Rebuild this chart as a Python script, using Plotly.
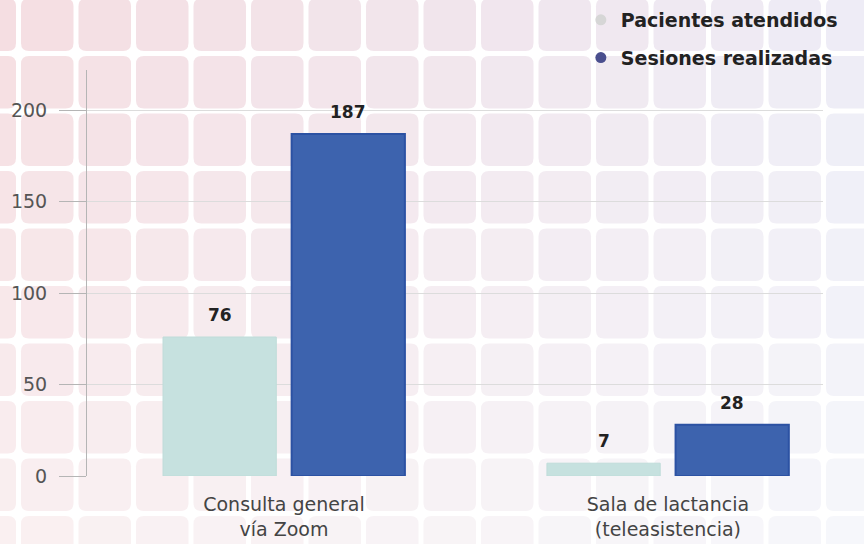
import plotly.graph_objects as go

categories = ["Consulta general<br>vía Zoom", "Sala de lactancia<br>(teleasistencia)"]
pacientes = [76, 7]
sesiones = [187, 28]
series_names = ["Pacientes atendidos", "Sesiones realizadas"]
y_ticks = [0, 50, 100, 150, 200]

W, H = 864, 544
L, R, T, B = 87, 41, 70, 68
PW, PH = W - L - R, H - T - B

FONT = "DejaVu Sans"

fig = go.Figure()

bar_w = 0.295
offs = [-0.315, 0.02]
fig.add_trace(go.Bar(x=[0, 1], y=pacientes, name=series_names[0], width=bar_w, offset=offs[0],
                     marker=dict(color="#c6e1df", line=dict(color="#bfdcd9", width=1)),
                     showlegend=False))
fig.add_trace(go.Bar(x=[0, 1], y=sesiones, name=series_names[1], width=bar_w, offset=offs[1],
                     marker=dict(color="#3d63ae", line=dict(color="#2c52a3", width=2)),
                     showlegend=False))

# legend entries (circle markers)
leg_colors = ["#d6d6d6", "#4a4f8e"]
for i, nm in enumerate(series_names):
    fig.add_trace(go.Scatter(x=[None], y=[None], mode="markers", name=nm, legendgroup=nm,
                             marker=dict(symbol="circle", size=11, color=leg_colors[i])))

# value labels
for vals, off in ((pacientes, offs[0]), (sesiones, offs[1])):
    for i, v in enumerate(vals):
        fig.add_annotation(x=i + off + bar_w / 2, y=v, text=f"<b>{v}</b>", showarrow=False,
                           yanchor="bottom", yshift=10,
                           font=dict(family=FONT, size=17, color="#222222"))

# background tiles
def lerp(a, b, t):
    return tuple(a[k] + (b[k] - a[k]) * t for k in range(3))

TL, TR, BL, BRc = (245, 221, 225), (237, 236, 246), (250, 240, 241), (246, 247, 251)
pitch, size, rad = 57.5, 52.5, 8.0
shapes = []
for r in range(10):
    for c in range(17):
        x0 = 21 - pitch + c * pitch
        y0 = -1.5 + r * pitch
        x1, y1 = x0 + size, y0 + size
        cx, cy = (x0 + x1) / 2, (y0 + y1) / 2
        tx = min(max(cx / W, 0), 1)
        ty = min(max(cy / H, 0), 1)
        col = lerp(lerp(TL, TR, tx), lerp(BL, BRc, tx), ty)
        def px(x):
            return (x - L) / PW
        def py(y):
            return (H - B - y) / PH
        p = (f"M {px(x0 + rad)},{py(y0)} L {px(x1 - rad)},{py(y0)} "
             f"Q {px(x1)},{py(y0)} {px(x1)},{py(y0 + rad)} "
             f"L {px(x1)},{py(y1 - rad)} Q {px(x1)},{py(y1)} {px(x1 - rad)},{py(y1)} "
             f"L {px(x0 + rad)},{py(y1)} Q {px(x0)},{py(y1)} {px(x0)},{py(y1 - rad)} "
             f"L {px(x0)},{py(y0 + rad)} Q {px(x0)},{py(y0)} {px(x0 + rad)},{py(y0)} Z")
        shapes.append(dict(type="path", path=p, xref="paper", yref="paper", layer="below",
                           fillcolor="rgb(%d,%d,%d)" % tuple(int(round(v)) for v in col),
                           line=dict(width=0)))

fig.update_layout(
    width=W, height=H,
    margin=dict(l=L, r=R, t=T, b=B, autoexpand=False),
    paper_bgcolor="white", plot_bgcolor="rgba(0,0,0,0)",
    shapes=shapes,
    showlegend=True,
    legend=dict(x=0.671, xanchor="left", y=1.17, yanchor="top", bgcolor="rgba(0,0,0,0)",
                font=dict(family=FONT, size=19, color="#222222", weight="bold"),
                traceorder="grouped", tracegroupgap=10, itemwidth=30),
    xaxis=dict(range=[-0.513, 1.404], tickmode="array", tickvals=[0, 1], ticktext=categories,
               showgrid=False, zeroline=False, showline=False, ticks="",
               tickfont=dict(family=FONT, size=19, color="#444444"), ticklabelstandoff=15),
    yaxis=dict(range=[0, 222], tickmode="array", tickvals=y_ticks,
               showgrid=True, gridcolor="#dcdcdc", gridwidth=1, zeroline=False,
               showline=True, linecolor="#b5b5b5", linewidth=1,
               ticks="outside", ticklen=27, tickcolor="#b5b5b5",
               tickfont=dict(family=FONT, size=19, color="#555555"), ticklabelstandoff=8),
    bargap=0.37,
)

fig.write_html("out.html", config={"displayModeBar": False},
               post_script="document.body.style.margin='0';")
